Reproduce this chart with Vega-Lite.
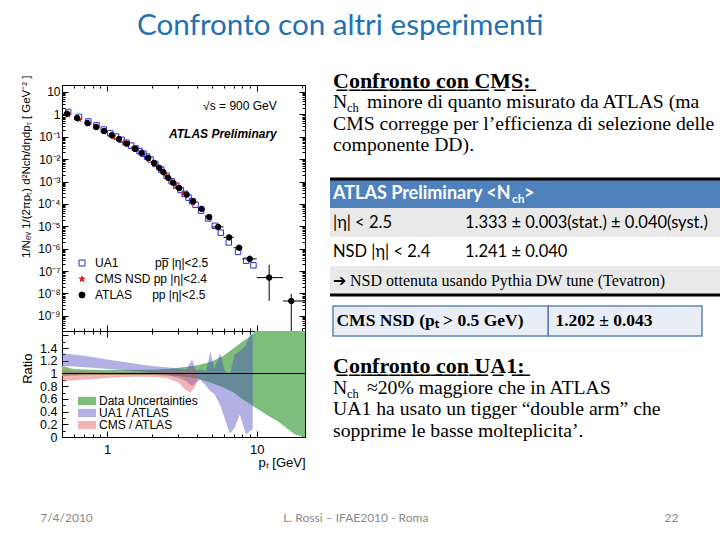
{
  "$schema": "https://vega.github.io/schema/vega-lite/v6.json",
  "background": "white",
  "padding": {"left": 19, "top": 11, "right": 0, "bottom": 0},
  "title": {"text": "Confronto con altri esperimenti", "font": "Lato", "fontSize": 29.6, "fontWeight": "normal", "color": "#2271B5", "anchor": "start", "frame": "group", "dx": 75, "offset": 28},
  "bounds": "flush",
  "columns": 2,
  "spacing": {"row": 0, "column": 25},
  "resolve": {"scale": {"fill": "independent", "stroke": "independent", "shape": "independent"}},
  "datasets": {
    "atlas_err": [
      {"pt": 5.52, "valore": 9.4e-6, "ptmin": 5.0, "ptmax": 6.0, "vmin": 8.4e-6, "vmax": 1.05e-5},
      {"pt": 6.54, "valore": 3.2e-6, "ptmin": 6.0, "ptmax": 7.0, "vmin": 2.8e-6, "vmax": 3.7e-6},
      {"pt": 7.62, "valore": 1.1e-6, "ptmin": 7.0, "ptmax": 8.0, "vmin": 9.0e-7, "vmax": 1.35e-6},
      {"pt": 8.98, "valore": 3.5e-7, "ptmin": 8.0, "ptmax": 10.0, "vmin": 2.5e-7, "vmax": 4.9e-7},
      {"pt": 12.1, "valore": 5.1e-8, "ptmin": 10.0, "ptmax": 15.0, "vmin": 4.6e-9, "vmax": 1.9e-7},
      {"pt": 17.0, "valore": 4.6e-9, "ptmin": 15.0, "ptmax": 21.0, "vmin": 1e-10, "vmax": 9.5e-9}
    ],
    "punti": [
      {"serie": "UA1", "pt": 0.55, "valore": 1.27},
      {"serie": "UA1", "pt": 0.65, "valore": 0.77},
      {"serie": "UA1", "pt": 0.75, "valore": 0.48},
      {"serie": "UA1", "pt": 0.85, "valore": 0.32},
      {"serie": "UA1", "pt": 0.95, "valore": 0.21},
      {"serie": "UA1", "pt": 1.05, "valore": 0.142},
      {"serie": "UA1", "pt": 1.15, "valore": 0.102},
      {"serie": "UA1", "pt": 1.25, "valore": 0.073},
      {"serie": "UA1", "pt": 1.35, "valore": 0.054},
      {"serie": "UA1", "pt": 1.45, "valore": 0.040},
      {"serie": "UA1", "pt": 1.55, "valore": 0.030},
      {"serie": "UA1", "pt": 1.65, "valore": 0.0225},
      {"serie": "UA1", "pt": 1.75, "valore": 0.0176},
      {"serie": "UA1", "pt": 1.85, "valore": 0.013},
      {"serie": "UA1", "pt": 1.95, "valore": 0.0097},
      {"serie": "UA1", "pt": 2.1, "valore": 0.0061},
      {"serie": "UA1", "pt": 2.3, "valore": 0.0034},
      {"serie": "UA1", "pt": 2.5, "valore": 0.0018},
      {"serie": "UA1", "pt": 2.7, "valore": 0.00103},
      {"serie": "UA1", "pt": 2.9, "valore": 0.00065},
      {"serie": "UA1", "pt": 3.1, "valore": 0.00042},
      {"serie": "UA1", "pt": 3.3, "valore": 0.00028},
      {"serie": "UA1", "pt": 3.5, "valore": 0.00019},
      {"serie": "UA1", "pt": 3.7, "valore": 0.000133},
      {"serie": "UA1", "pt": 3.9, "valore": 9.2e-5},
      {"serie": "UA1", "pt": 4.25, "valore": 5.0e-5},
      {"serie": "UA1", "pt": 4.75, "valore": 2.25e-5},
      {"serie": "UA1", "pt": 5.25, "valore": 1.05e-5},
      {"serie": "UA1", "pt": 5.75, "valore": 5.2e-6},
      {"serie": "UA1", "pt": 6.5, "valore": 1.9e-6},
      {"serie": "UA1", "pt": 7.5, "valore": 7.2e-7},
      {"serie": "UA1", "pt": 8.5, "valore": 2.9e-7},
      {"serie": "UA1", "pt": 9.5, "valore": 1.8e-7},
      {"serie": "CMS", "pt": 0.55, "valore": 0.95},
      {"serie": "CMS", "pt": 0.65, "valore": 0.59},
      {"serie": "CMS", "pt": 0.75, "valore": 0.375},
      {"serie": "CMS", "pt": 0.85, "valore": 0.25},
      {"serie": "CMS", "pt": 0.95, "valore": 0.17},
      {"serie": "CMS", "pt": 1.1, "valore": 0.102},
      {"serie": "CMS", "pt": 1.3, "valore": 0.056},
      {"serie": "CMS", "pt": 1.5, "valore": 0.032},
      {"serie": "CMS", "pt": 1.7, "valore": 0.0185},
      {"serie": "CMS", "pt": 1.9, "valore": 0.0105},
      {"serie": "CMS", "pt": 2.1, "valore": 0.0058},
      {"serie": "CMS", "pt": 2.3, "valore": 0.0032},
      {"serie": "CMS", "pt": 2.5, "valore": 0.0017},
      {"serie": "CMS", "pt": 2.7, "valore": 0.00098},
      {"serie": "CMS", "pt": 2.9, "valore": 0.00062},
      {"serie": "CMS", "pt": 3.25, "valore": 0.0003},
      {"serie": "CMS", "pt": 3.75, "valore": 0.000112},
      {"serie": "ATLAS", "pt": 0.54, "valore": 1.07},
      {"serie": "ATLAS", "pt": 0.63, "valore": 0.69},
      {"serie": "ATLAS", "pt": 0.74, "valore": 0.41},
      {"serie": "ATLAS", "pt": 0.845, "valore": 0.275},
      {"serie": "ATLAS", "pt": 0.955, "valore": 0.18},
      {"serie": "ATLAS", "pt": 1.075, "valore": 0.117},
      {"serie": "ATLAS", "pt": 1.2, "valore": 0.079},
      {"serie": "ATLAS", "pt": 1.35, "valore": 0.049},
      {"serie": "ATLAS", "pt": 1.54, "valore": 0.029},
      {"serie": "ATLAS", "pt": 1.7, "valore": 0.019},
      {"serie": "ATLAS", "pt": 1.88, "valore": 0.0113},
      {"serie": "ATLAS", "pt": 2.06, "valore": 0.0068},
      {"serie": "ATLAS", "pt": 2.23, "valore": 0.0041},
      {"serie": "ATLAS", "pt": 2.38, "valore": 0.0026},
      {"serie": "ATLAS", "pt": 2.56, "valore": 0.00146},
      {"serie": "ATLAS", "pt": 2.77, "valore": 0.00087},
      {"serie": "ATLAS", "pt": 3.03, "valore": 0.00051},
      {"serie": "ATLAS", "pt": 3.4, "valore": 0.00026},
      {"serie": "ATLAS", "pt": 3.76, "valore": 0.000132},
      {"serie": "ATLAS", "pt": 4.28, "valore": 6.0e-5},
      {"serie": "ATLAS", "pt": 4.81, "valore": 2.6e-5},
      {"serie": "ATLAS", "pt": 5.52, "valore": 9.4e-6},
      {"serie": "ATLAS", "pt": 6.54, "valore": 3.2e-6},
      {"serie": "ATLAS", "pt": 7.62, "valore": 1.1e-6},
      {"serie": "ATLAS", "pt": 8.98, "valore": 3.5e-7},
      {"serie": "ATLAS", "pt": 12.1, "valore": 5.1e-8},
      {"serie": "ATLAS", "pt": 17.0, "valore": 4.6e-9}
    ],
    "incertezza": [
      {"pt": 0.5, "lo": 0.96, "hi": 1.12},
      {"pt": 0.6, "lo": 0.97, "hi": 1.07},
      {"pt": 0.8, "lo": 0.975, "hi": 1.06},
      {"pt": 1.0, "lo": 0.975, "hi": 1.055},
      {"pt": 1.5, "lo": 0.975, "hi": 1.06},
      {"pt": 2.0, "lo": 0.975, "hi": 1.06},
      {"pt": 2.5, "lo": 0.97, "hi": 1.07},
      {"pt": 3.0, "lo": 0.96, "hi": 1.09},
      {"pt": 3.5, "lo": 0.94, "hi": 1.11},
      {"pt": 4.0, "lo": 0.92, "hi": 1.13},
      {"pt": 5.0, "lo": 0.85, "hi": 1.19},
      {"pt": 6.0, "lo": 0.78, "hi": 1.28},
      {"pt": 7.0, "lo": 0.7, "hi": 1.4},
      {"pt": 8.0, "lo": 0.6, "hi": 1.5},
      {"pt": 9.0, "lo": 0.52, "hi": 1.58},
      {"pt": 10.0, "lo": 0.45, "hi": 1.7},
      {"pt": 12.0, "lo": 0.33, "hi": 1.7},
      {"pt": 14.0, "lo": 0.24, "hi": 1.7},
      {"pt": 16.0, "lo": 0.13, "hi": 1.7},
      {"pt": 18.0, "lo": 0.04, "hi": 1.7},
      {"pt": 21.0, "lo": 0.0, "hi": 1.7}
    ],
    "ua1_atlas": [
      {"pt": 0.5, "lo": 1.12, "hi": 1.32},
      {"pt": 0.6, "lo": 1.11, "hi": 1.3},
      {"pt": 0.8, "lo": 1.09, "hi": 1.26},
      {"pt": 1.0, "lo": 1.07, "hi": 1.22},
      {"pt": 1.3, "lo": 1.05, "hi": 1.18},
      {"pt": 1.6, "lo": 1.03, "hi": 1.15},
      {"pt": 2.0, "lo": 1.01, "hi": 1.12},
      {"pt": 2.5, "lo": 0.98, "hi": 1.1},
      {"pt": 3.0, "lo": 0.93, "hi": 1.08},
      {"pt": 3.4, "lo": 0.88, "hi": 1.07},
      {"pt": 3.7, "lo": 0.8, "hi": 1.22},
      {"pt": 3.9, "lo": 0.85, "hi": 1.05},
      {"pt": 4.2, "lo": 0.9, "hi": 1.06},
      {"pt": 4.6, "lo": 0.8, "hi": 1.04},
      {"pt": 4.9, "lo": 0.72, "hi": 1.35},
      {"pt": 5.2, "lo": 0.68, "hi": 1.08},
      {"pt": 5.7, "lo": 0.5, "hi": 1.32},
      {"pt": 6.1, "lo": 0.3, "hi": 1.05},
      {"pt": 6.6, "lo": 0.05, "hi": 0.98},
      {"pt": 7.1, "lo": 0.14, "hi": 1.3},
      {"pt": 7.7, "lo": 0.35, "hi": 1.35},
      {"pt": 8.5, "lo": 0.04, "hi": 1.45},
      {"pt": 9.0, "lo": 0.1, "hi": 1.62},
      {"pt": 9.4, "lo": 0.12, "hi": 1.62}
    ],
    "cms_atlas": [
      {"pt": 0.5, "lo": 0.88, "hi": 1.05},
      {"pt": 0.6, "lo": 0.89, "hi": 1.04},
      {"pt": 0.8, "lo": 0.91, "hi": 1.03},
      {"pt": 1.0, "lo": 0.93, "hi": 1.02},
      {"pt": 1.5, "lo": 0.95, "hi": 1.02},
      {"pt": 2.0, "lo": 0.95, "hi": 1.02},
      {"pt": 2.5, "lo": 0.93, "hi": 1.03},
      {"pt": 3.0, "lo": 0.86, "hi": 1.04},
      {"pt": 3.3, "lo": 0.75, "hi": 1.02},
      {"pt": 3.6, "lo": 0.7, "hi": 1.05},
      {"pt": 3.9, "lo": 0.8, "hi": 1.06},
      {"pt": 4.0, "lo": 0.9, "hi": 1.0}
    ]
  },
  "concat": [
    {
      "width": 243,
      "height": 246,
      "view": {"stroke": "black", "strokeWidth": 1},
      "resolve": {"axis": {"x": "independent", "y": "independent"}},
      "layer": [
        {
          "data": {"name": "atlas_err"},
          "mark": {"type": "rule", "color": "black", "strokeWidth": 1, "clip": true},
          "encoding": {
            "x": {"field": "ptmin", "type": "quantitative", "scale": {"type": "log", "domain": [0.5, 21], "nice": false},
              "axis": {"orient": "bottom", "values": [1, 10], "labels": false, "tickSize": 6, "offset": -6, "title": null}},
            "x2": {"field": "ptmax"},
            "y": {"field": "valore", "type": "quantitative", "scale": {"type": "log", "domain": [2.1e-10, 20.5], "nice": false},
              "axis": {"orient": "left", "values": [1e-9, 1e-8, 1e-7, 1e-6, 1e-5, 0.0001, 0.001, 0.01, 0.1, 1, 10], "ticks": false, "labelPadding": 2, "labelFontSize": 12, "labelOverlap": false,
                "labelExpr": "datum.value >= 9 ? '10' : datum.value >= 0.9 ? '1' : '10⁻' + ['','¹','²','³','⁴','⁵','⁶','⁷','⁸','⁹'][round(-log(datum.value)/LN10)]",
                "title": "1/Nₑᵥ 1/(2πpₜ) d²Nch/dηdpₜ  [ GeV⁻² ]", "titleFontSize": 11.5, "titleFontWeight": "normal", "titleAnchor": "end", "titleAlign": "right", "titleBaseline": "middle", "titleX": -36, "titleY": -10}}
          }
        },
        {
          "data": {"name": "atlas_err"},
          "mark": {"type": "rule", "color": "black", "strokeWidth": 1, "clip": true},
          "encoding": {
            "x": {"field": "pt", "type": "quantitative",
              "axis": {"orient": "top", "values": [1, 10], "labels": false, "tickSize": 6, "offset": -6, "title": null}},
            "y": {"field": "vmin", "type": "quantitative",
              "axis": {"orient": "left", "values": [1e-9, 1e-8, 1e-7, 1e-6, 1e-5, 0.0001, 0.001, 0.01, 0.1, 1, 10], "labels": false, "tickSize": 6, "offset": -6, "title": null}},
            "y2": {"field": "vmax"}
          }
        },
        {
          "data": {"name": "punti"},
          "mark": {"type": "point", "size": 30, "strokeWidth": 1, "opacity": 1},
          "encoding": {
            "x": {"field": "pt", "type": "quantitative",
              "axis": {"orient": "bottom", "values": [0.6, 0.7, 0.8, 0.9, 2, 3, 4, 5, 6, 7, 8, 9, 20], "labels": false, "tickSize": 3, "offset": -3, "title": null}},
            "y": {"field": "valore", "type": "quantitative",
              "axis": {"orient": "right", "values": [1e-9, 1e-8, 1e-7, 1e-6, 1e-5, 0.0001, 0.001, 0.01, 0.1, 1, 10], "labels": false, "tickSize": 6, "offset": -6, "title": null}},
            "shape": {"field": "serie", "type": "nominal",
              "scale": {"domain": ["UA1", "CMS", "ATLAS"], "range": ["square", "M0,-1L0.2245,-0.309L0.951,-0.309L0.363,0.118L0.588,0.809L0,0.382L-0.588,0.809L-0.363,0.118L-0.951,-0.309L-0.2245,-0.309Z", "circle"]},
              "legend": {"orient": "none", "legendX": 14, "legendY": 172, "title": null, "padding": 0, "labelFont": "Liberation Sans", "labelFontSize": 12, "labelOffset": 7, "rowPadding": 4, "symbolSize": 36, "symbolStrokeWidth": 1,
                "labelExpr": "datum.label == 'UA1' ? 'UA1\u00a0\u00a0\u00a0\u00a0\u00a0\u00a0\u00a0\u00a0\u00a0\u00a0\u00a0pp\u0305 |η|<2.5' : datum.label == 'CMS' ? 'CMS NSD pp |η|<2.4' : 'ATLAS\u00a0\u00a0\u00a0\u00a0\u00a0\u00a0pp |η|<2.5'"}},
            "fill": {"field": "serie", "type": "nominal",
              "scale": {"domain": ["UA1", "CMS", "ATLAS"], "range": ["transparent", "#D42020", "black"]},
              "legend": {"orient": "none", "legendX": 14, "legendY": 172, "title": null, "padding": 0, "labelFont": "Liberation Sans", "labelFontSize": 12, "labelOffset": 7, "rowPadding": 4, "symbolSize": 36, "symbolStrokeWidth": 1,
                "labelExpr": "datum.label == 'UA1' ? 'UA1\u00a0\u00a0\u00a0\u00a0\u00a0\u00a0\u00a0\u00a0\u00a0\u00a0\u00a0pp\u0305 |η|<2.5' : datum.label == 'CMS' ? 'CMS NSD pp |η|<2.4' : 'ATLAS\u00a0\u00a0\u00a0\u00a0\u00a0\u00a0pp |η|<2.5'"}},
            "stroke": {"field": "serie", "type": "nominal",
              "scale": {"domain": ["UA1", "CMS", "ATLAS"], "range": ["#2B2BD0", "#D42020", "black"]},
              "legend": {"orient": "none", "legendX": 14, "legendY": 172, "title": null, "padding": 0, "labelFont": "Liberation Sans", "labelFontSize": 12, "labelOffset": 7, "rowPadding": 4, "symbolSize": 36, "symbolStrokeWidth": 1,
                "labelExpr": "datum.label == 'UA1' ? 'UA1\u00a0\u00a0\u00a0\u00a0\u00a0\u00a0\u00a0\u00a0\u00a0\u00a0\u00a0pp\u0305 |η|<2.5' : datum.label == 'CMS' ? 'CMS NSD pp |η|<2.4' : 'ATLAS\u00a0\u00a0\u00a0\u00a0\u00a0\u00a0pp |η|<2.5'"}}
          }
        },
        {
          "data": {"name": "punti"},
          "mark": {"type": "point", "opacity": 0},
          "encoding": {
            "x": {"field": "pt", "type": "quantitative",
              "axis": {"orient": "top", "values": [0.6, 0.7, 0.8, 0.9, 2, 3, 4, 5, 6, 7, 8, 9, 20], "labels": false, "tickSize": 3, "offset": -3, "title": null}},
            "y": {"field": "valore", "type": "quantitative",
              "axis": {"orient": "left", "values": [3e-10, 4e-10, 5e-10, 6e-10, 7e-10, 8e-10, 9e-10, 2e-9, 3e-9, 4e-9, 5e-9, 6e-9, 7e-9, 8e-9, 9e-9, 2e-8, 3e-8, 4e-8, 5e-8, 6e-8, 7e-8, 8e-8, 9e-8, 2e-7, 3e-7, 4e-7, 5e-7, 6e-7, 7e-7, 8e-7, 9e-7, 2e-6, 3e-6, 4e-6, 5e-6, 6e-6, 7e-6, 8e-6, 9e-6, 2e-5, 3e-5, 4e-5, 5e-5, 6e-5, 7e-5, 8e-5, 9e-5, 0.0002, 0.0003, 0.0004, 0.0005, 0.0006, 0.0007, 0.0008, 0.0009, 0.002, 0.003, 0.004, 0.005, 0.006, 0.007, 0.008, 0.009, 0.02, 0.03, 0.04, 0.05, 0.06, 0.07, 0.08, 0.09, 0.2, 0.3, 0.4, 0.5, 0.6, 0.7, 0.8, 0.9, 2, 3, 4, 5, 6, 7, 8, 9, 20], "labels": false, "tickSize": 3, "offset": -3, "title": null}}
          }
        },
        {
          "data": {"name": "punti"},
          "mark": {"type": "point", "opacity": 0},
          "encoding": {
            "x": {"field": "pt", "type": "quantitative", "axis": null},
            "y": {"field": "valore", "type": "quantitative",
              "axis": {"orient": "right", "values": [3e-10, 4e-10, 5e-10, 6e-10, 7e-10, 8e-10, 9e-10, 2e-9, 3e-9, 4e-9, 5e-9, 6e-9, 7e-9, 8e-9, 9e-9, 2e-8, 3e-8, 4e-8, 5e-8, 6e-8, 7e-8, 8e-8, 9e-8, 2e-7, 3e-7, 4e-7, 5e-7, 6e-7, 7e-7, 8e-7, 9e-7, 2e-6, 3e-6, 4e-6, 5e-6, 6e-6, 7e-6, 8e-6, 9e-6, 2e-5, 3e-5, 4e-5, 5e-5, 6e-5, 7e-5, 8e-5, 9e-5, 0.0002, 0.0003, 0.0004, 0.0005, 0.0006, 0.0007, 0.0008, 0.0009, 0.002, 0.003, 0.004, 0.005, 0.006, 0.007, 0.008, 0.009, 0.02, 0.03, 0.04, 0.05, 0.06, 0.07, 0.08, 0.09, 0.2, 0.3, 0.4, 0.5, 0.6, 0.7, 0.8, 0.9, 2, 3, 4, 5, 6, 7, 8, 9, 20], "labels": false, "tickSize": 3, "offset": -3, "title": null}}
          }
        },
        {
          "data": {"values": [{}]},
          "mark": {"type": "text", "align": "right", "baseline": "middle", "font": "Liberation Sans", "fontSize": 12, "color": "black", "text": "√s = 900 GeV"},
          "encoding": {
            "x": {"datum": 13.6, "type": "quantitative", "axis": null},
            "y": {"datum": 2.37, "type": "quantitative", "axis": null}
          }
        },
        {
          "data": {"values": [{}]},
          "mark": {"type": "text", "align": "right", "baseline": "middle", "font": "Liberation Sans", "fontSize": 12, "fontWeight": "bold", "fontStyle": "italic", "color": "black", "text": "ATLAS Preliminary"},
          "encoding": {
            "x": {"datum": 13.6, "type": "quantitative", "axis": null},
            "y": {"datum": 0.133, "type": "quantitative", "axis": null}
          }
        }
      ]
    },
    {
      "width": 390,
      "height": 246,
      "resolve": {"scale": {"x": "independent", "y": "independent", "fill": "independent"}},
      "layer": [
        {
          "data": {"values": [{"riga": "a", "colonna": "sinistra", "testo": "C̲o̲n̲f̲r̲o̲n̲t̲o̲ ̲c̲o̲n̲ ̲C̲M̲S̲:̲"}]},
          "mark": {"type": "text", "align": "left", "baseline": "middle", "font": "Liberation Serif", "fontSize": 22, "fontWeight": "bold", "color": "black"},
          "encoding": {
            "x": {"field": "colonna", "type": "ordinal", "scale": {"type": "point", "domain": ["sinistra", "destra"], "range": [3, 135], "padding": 0}, "axis": null},
            "y": {"field": "riga", "type": "ordinal", "scale": {"type": "point", "domain": ["a", "b", "c", "d"], "range": [-4, 60], "padding": 0}, "axis": null},
            "text": {"field": "testo"}
          }
        },
        {
          "data": {"values": [
            {"riga": "b", "colonna": "sinistra", "testo": "N\u2002\u2002minore di quanto misurato da ATLAS (ma"},
            {"riga": "c", "colonna": "sinistra", "testo": "CMS corregge per l’efficienza di selezione delle"},
            {"riga": "d", "colonna": "sinistra", "testo": "componente DD)."}
          ]},
          "mark": {"type": "text", "align": "left", "baseline": "middle", "font": "Liberation Serif", "fontSize": 19.7, "color": "black"},
          "encoding": {
            "x": {"field": "colonna", "type": "ordinal", "scale": {"type": "point", "domain": ["sinistra", "destra"], "range": [3, 135], "padding": 0}, "axis": null},
            "y": {"field": "riga", "type": "ordinal", "scale": {"type": "point", "domain": ["a", "b", "c", "d"], "range": [-4, 60], "padding": 0}, "axis": null},
            "text": {"field": "testo"}
          }
        },
        {
          "data": {"values": [{"riga": "b", "colonna": "sinistra", "testo": "ch"}]},
          "mark": {"type": "text", "align": "left", "baseline": "middle", "font": "Liberation Serif", "fontSize": 12.5, "color": "black", "dx": 14, "dy": 6},
          "encoding": {
            "x": {"field": "colonna", "type": "ordinal", "scale": {"type": "point", "domain": ["sinistra", "destra"], "range": [3, 135], "padding": 0}, "axis": null},
            "y": {"field": "riga", "type": "ordinal", "scale": {"type": "point", "domain": ["a", "b", "c", "d"], "range": [-4, 60], "padding": 0}, "axis": null},
            "text": {"field": "testo"}
          }
        },
        {
          "data": {"values": [
            {"riga": "h", "tipo": "intestazione"},
            {"riga": "r1", "tipo": "grigia"},
            {"riga": "r2", "tipo": "bianca"},
            {"riga": "r3", "tipo": "grigia"}
          ]},
          "mark": {"type": "rect"},
          "encoding": {
            "y": {"field": "riga", "type": "ordinal", "scale": {"type": "band", "domain": ["h", "r1", "r2", "r3"], "range": [94, 210], "paddingInner": 0, "paddingOuter": 0}, "axis": null},
            "fill": {"field": "tipo", "type": "nominal", "scale": {"domain": ["intestazione", "grigia", "bianca"], "range": ["#4F81BD", "#E9E9E9", "#FFFFFF"]}, "legend": null}
          }
        },
        {
          "data": {"values": [{"riga": "h"}]},
          "mark": {"type": "rule", "color": "black", "strokeWidth": 3},
          "encoding": {"y": {"field": "riga", "type": "ordinal", "bandPosition": 0, "scale": {"type": "band", "domain": ["h", "r1", "r2", "r3"], "range": [94, 210], "paddingInner": 0, "paddingOuter": 0}, "axis": null}}
        },
        {
          "data": {"values": [{"riga": "r3"}]},
          "mark": {"type": "rule", "color": "black", "strokeWidth": 3},
          "encoding": {"y": {"field": "riga", "type": "ordinal", "bandPosition": 1, "scale": {"type": "band", "domain": ["h", "r1", "r2", "r3"], "range": [94, 210], "paddingInner": 0, "paddingOuter": 0}, "axis": null}}
        },
        {
          "data": {"values": [{"riga": "h", "colonna": "sinistra", "testo": "ATLAS Preliminary <N\u2002\u2005>"}]},
          "mark": {"type": "text", "align": "left", "baseline": "middle", "font": "Lato", "fontSize": 18, "fontWeight": "bold", "color": "white"},
          "encoding": {
            "x": {"field": "colonna", "type": "ordinal", "scale": {"type": "point", "domain": ["sinistra", "destra"], "range": [3, 135], "padding": 0}, "axis": null},
            "y": {"field": "riga", "type": "ordinal", "scale": {"type": "band", "domain": ["h", "r1", "r2", "r3"], "range": [94, 210], "paddingInner": 0, "paddingOuter": 0}, "axis": null},
            "text": {"field": "testo"}
          }
        },
        {
          "data": {"values": [{"riga": "h", "colonna": "sinistra", "testo": "ch"}]},
          "mark": {"type": "text", "align": "left", "baseline": "middle", "font": "Lato", "fontSize": 12, "fontWeight": "bold", "color": "white", "dx": 179, "dy": 5},
          "encoding": {
            "x": {"field": "colonna", "type": "ordinal", "scale": {"type": "point", "domain": ["sinistra", "destra"], "range": [3, 135], "padding": 0}, "axis": null},
            "y": {"field": "riga", "type": "ordinal", "scale": {"type": "band", "domain": ["h", "r1", "r2", "r3"], "range": [94, 210], "paddingInner": 0, "paddingOuter": 0}, "axis": null},
            "text": {"field": "testo"}
          }
        },
        {
          "data": {"values": [
            {"riga": "r1", "colonna": "sinistra", "testo": "|η| < 2.5"},
            {"riga": "r1", "colonna": "destra", "testo": "1.333 ± 0.003(stat.) ± 0.040(syst.)"},
            {"riga": "r2", "colonna": "sinistra", "testo": "NSD |η| < 2.4"},
            {"riga": "r2", "colonna": "destra", "testo": "1.241 ± 0.040"}
          ]},
          "mark": {"type": "text", "align": "left", "baseline": "middle", "font": "Lato", "fontSize": 16.5, "color": "black"},
          "encoding": {
            "x": {"field": "colonna", "type": "ordinal", "scale": {"type": "point", "domain": ["sinistra", "destra"], "range": [3, 135], "padding": 0}, "axis": null},
            "y": {"field": "riga", "type": "ordinal", "scale": {"type": "band", "domain": ["h", "r1", "r2", "r3"], "range": [94, 210], "paddingInner": 0, "paddingOuter": 0}, "axis": null},
            "text": {"field": "testo"}
          }
        },
        {
          "data": {"values": [{"riga": "r3", "colonna": "sinistra", "testo": "➔ NSD ottenuta usando Pythia DW tune (Tevatron)"}]},
          "mark": {"type": "text", "align": "left", "baseline": "middle", "font": "Liberation Serif", "fontSize": 16, "color": "black"},
          "encoding": {
            "x": {"field": "colonna", "type": "ordinal", "scale": {"type": "point", "domain": ["sinistra", "destra"], "range": [3, 135], "padding": 0}, "axis": null},
            "y": {"field": "riga", "type": "ordinal", "scale": {"type": "band", "domain": ["h", "r1", "r2", "r3"], "range": [94, 210], "paddingInner": 0, "paddingOuter": 0}, "axis": null},
            "text": {"field": "testo"}
          }
        },
        {
          "data": {"values": [
            {"cella": "a", "riga": "box", "da": "e0", "a": "e1"},
            {"cella": "b", "riga": "box", "da": "e1", "a": "e2"}
          ]},
          "mark": {"type": "rect", "fill": "#E9EEF6", "stroke": "#5F84BA", "strokeWidth": 1.5},
          "encoding": {
            "x": {"field": "da", "type": "ordinal", "scale": {"type": "point", "domain": ["e0", "v1", "v2", "v3", "v4", "v5", "v6", "e1", "v8", "v9", "v10", "v11", "e2"], "range": [3, 372], "padding": 0}, "axis": null},
            "x2": {"field": "a"},
            "y": {"field": "riga", "type": "ordinal", "scale": {"type": "band", "domain": ["box"], "range": [221, 251], "paddingInner": 0, "paddingOuter": 0}, "axis": null}
          }
        },
        {
          "data": {"values": [
            {"cella": "a", "riga": "box", "testo": "CMS NSD (pₜ > 0.5 GeV)"},
            {"cella": "b", "riga": "box", "testo": "1.202 ± 0.043"}
          ]},
          "mark": {"type": "text", "align": "center", "baseline": "middle", "font": "Liberation Serif", "fontSize": 17.5, "fontWeight": "bold", "color": "black"},
          "encoding": {
            "x": {"field": "cella", "type": "ordinal", "scale": {"type": "point", "domain": ["a", "b"], "range": [100, 274], "padding": 0}, "axis": null},
            "y": {"field": "riga", "type": "ordinal", "scale": {"type": "band", "domain": ["box"], "range": [221, 251], "paddingInner": 0, "paddingOuter": 0}, "axis": null},
            "text": {"field": "testo"}
          }
        }
      ]
    },
    {
      "width": 243,
      "height": 106,
      "view": {"stroke": "black", "strokeWidth": 1},
      "resolve": {"axis": {"x": "independent", "y": "independent"}},
      "layer": [
        {
          "data": {"name": "incertezza"},
          "mark": {"type": "area", "clip": true},
          "encoding": {
            "x": {"field": "pt", "type": "quantitative", "scale": {"type": "log", "domain": [0.5, 21], "nice": false},
              "axis": {"orient": "bottom", "values": [1, 10], "ticks": false, "labelFontSize": 13, "labelPadding": 6, "labelOverlap": false, "title": "pₜ [GeV]", "titleAnchor": "end", "titleFontSize": 13, "titleFontWeight": "normal", "titlePadding": 0}},
            "y": {"field": "lo", "type": "quantitative", "scale": {"domain": [0, 1.67], "nice": false, "zero": false},
              "axis": {"orient": "left", "values": [0, 0.2, 0.4, 0.6, 0.8, 1, 1.2, 1.4], "format": "~g", "ticks": false, "labelFontSize": 12.5, "labelPadding": 5, "labelOverlap": false, "labelBound": false,
                "title": "Ratio", "titleFontSize": 13, "titleFontWeight": "normal", "titleAnchor": "end", "titleAlign": "right", "titleBaseline": "middle", "titleX": -35, "titleY": 22}},
            "y2": {"field": "hi"},
            "fill": {"datum": "Data Uncertainties", "type": "nominal",
              "scale": {"domain": ["Data Uncertainties", "UA1 / ATLAS", "CMS / ATLAS"], "range": ["#7DBE7D", "rgba(70,70,190,0.42)", "rgba(220,80,80,0.42)"]},
              "legend": {"orient": "none", "legendX": 19, "legendY": 64, "title": null, "padding": 0, "symbolType": "M-1.8,-0.83H1.8V0.83H-1.8Z", "symbolSize": 100, "symbolStrokeWidth": 0, "labelFont": "Liberation Sans", "labelFontSize": 12, "labelOffset": 6, "rowPadding": 0}}
          }
        },
        {
          "data": {"name": "ua1_atlas"},
          "mark": {"type": "area", "clip": true},
          "encoding": {
            "x": {"field": "pt", "type": "quantitative",
              "axis": {"orient": "bottom", "values": [1, 10], "labels": false, "tickSize": 6, "offset": -6, "title": null}},
            "y": {"field": "lo", "type": "quantitative",
              "axis": {"orient": "left", "values": [0, 0.2, 0.4, 0.6, 0.8, 1, 1.2, 1.4, 1.6], "labels": false, "tickSize": 6, "offset": -6, "title": null}},
            "y2": {"field": "hi"},
            "fill": {"datum": "UA1 / ATLAS", "type": "nominal"}
          }
        },
        {
          "data": {"name": "cms_atlas"},
          "mark": {"type": "area", "clip": true},
          "encoding": {
            "x": {"field": "pt", "type": "quantitative",
              "axis": {"orient": "top", "values": [1, 10], "labels": false, "tickSize": 6, "offset": -6, "title": null}},
            "y": {"field": "lo", "type": "quantitative",
              "axis": {"orient": "right", "values": [0, 0.2, 0.4, 0.6, 0.8, 1, 1.2, 1.4, 1.6], "labels": false, "tickSize": 6, "offset": -6, "title": null}},
            "y2": {"field": "hi"},
            "fill": {"datum": "CMS / ATLAS", "type": "nominal"}
          }
        },
        {
          "data": {"values": [{}]},
          "mark": {"type": "rule", "color": "black", "strokeWidth": 1},
          "encoding": {
            "y": {"datum": 1, "type": "quantitative", "axis": null}
          }
        },
        {
          "data": {"name": "incertezza"},
          "mark": {"type": "point", "opacity": 0},
          "encoding": {
            "x": {"field": "pt", "type": "quantitative",
              "axis": {"orient": "bottom", "values": [0.6, 0.7, 0.8, 0.9, 2, 3, 4, 5, 6, 7, 8, 9, 20], "labels": false, "tickSize": 3, "offset": -3, "title": null}},
            "y": {"field": "lo", "type": "quantitative",
              "axis": {"orient": "left", "values": [0.1, 0.3, 0.5, 0.7, 0.9, 1.1, 1.3, 1.5], "labels": false, "tickSize": 3, "offset": -3, "title": null}}
          }
        },
        {
          "data": {"name": "incertezza"},
          "mark": {"type": "point", "opacity": 0},
          "encoding": {
            "x": {"field": "pt", "type": "quantitative",
              "axis": {"orient": "top", "values": [0.6, 0.7, 0.8, 0.9, 2, 3, 4, 5, 6, 7, 8, 9, 20], "labels": false, "tickSize": 3, "offset": -3, "title": null}},
            "y": {"field": "lo", "type": "quantitative",
              "axis": {"orient": "right", "values": [0.1, 0.3, 0.5, 0.7, 0.9, 1.1, 1.3, 1.5], "labels": false, "tickSize": 3, "offset": -3, "title": null}}
          }
        }
      ]
    },
    {
      "width": 390,
      "height": 180,
      "layer": [
        {
          "data": {"values": [{"riga": "a", "colonna": "sinistra", "testo": "C̲o̲n̲f̲r̲o̲n̲t̲o̲ ̲c̲o̲n̲ ̲U̲A̲1̲:̲"}]},
          "mark": {"type": "text", "align": "left", "baseline": "middle", "font": "Liberation Serif", "fontSize": 22, "fontWeight": "bold", "color": "black"},
          "encoding": {
            "x": {"field": "colonna", "type": "ordinal", "scale": {"type": "point", "domain": ["sinistra", "destra"], "range": [3, 135], "padding": 0}, "axis": null},
            "y": {"field": "riga", "type": "ordinal", "scale": {"type": "point", "domain": ["a", "b", "c", "d"], "range": [35, 100], "padding": 0}, "axis": null},
            "text": {"field": "testo"}
          }
        },
        {
          "data": {"values": [
            {"riga": "b", "colonna": "sinistra", "testo": "N\u2002\u2002≈20% maggiore che in ATLAS"},
            {"riga": "c", "colonna": "sinistra", "testo": "UA1 ha usato un tigger  “double arm” che"},
            {"riga": "d", "colonna": "sinistra", "testo": "sopprime le basse molteplicita’."}
          ]},
          "mark": {"type": "text", "align": "left", "baseline": "middle", "font": "Liberation Serif", "fontSize": 19.7, "color": "black"},
          "encoding": {
            "x": {"field": "colonna", "type": "ordinal", "axis": null},
            "y": {"field": "riga", "type": "ordinal", "axis": null},
            "text": {"field": "testo"}
          }
        },
        {
          "data": {"values": [{"riga": "b", "colonna": "sinistra", "testo": "ch"}]},
          "mark": {"type": "text", "align": "left", "baseline": "middle", "font": "Liberation Serif", "fontSize": 12.5, "color": "black", "dx": 14, "dy": 6},
          "encoding": {
            "x": {"field": "colonna", "type": "ordinal", "axis": null},
            "y": {"field": "riga", "type": "ordinal", "axis": null},
            "text": {"field": "testo"}
          }
        }
      ]
    },
    {
      "width": 243,
      "height": 14,
      "data": {"values": [
        {"posizione": "sinistra", "testo": "7/4/2010"},
        {"posizione": "centro", "testo": "L. Rossi – IFAE2010 - Roma"},
        {"posizione": "destra", "testo": "22"}
      ]},
      "mark": {"type": "text", "align": "center", "baseline": "middle", "font": "Lato", "fontSize": 12, "color": "#898989"},
      "encoding": {
        "x": {"field": "posizione", "type": "ordinal", "scale": {"type": "point", "domain": ["sinistra", "v1", "v2", "v3", "v4", "v5", "v6", "v7", "v8", "v9", "v10", "centro", "v12", "v13", "v14", "v15", "v16", "v17", "v18", "v19", "v20", "v21", "v22", "destra"], "range": [4.5, 609.5], "padding": 0}, "axis": null},
        "text": {"field": "testo"}
      }
    }
  ],
  "config": {
    "view": {"stroke": null},
    "axis": {"grid": false, "domain": false, "labelFont": "Liberation Sans", "titleFont": "Liberation Sans", "labelColor": "black", "titleColor": "black", "tickColor": "black", "labelFontSize": 12},
    "legend": {"labelFont": "Liberation Sans", "labelColor": "black"}
  }
}
